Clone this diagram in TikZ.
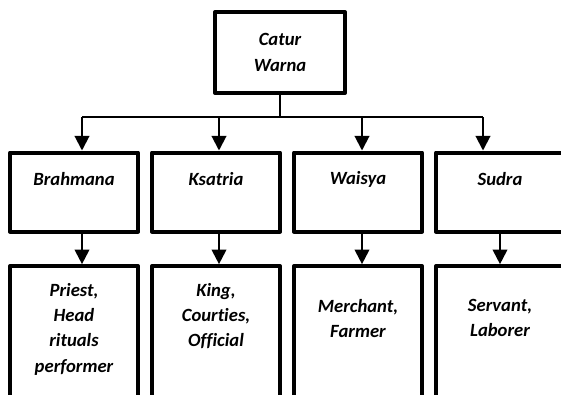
\documentclass[tikz,border=0pt]{standalone}
\usepackage{fontspec}
\setmainfont{Carlito}[Ligatures=NoCommon]
\usetikzlibrary{positioning,arrows.meta}

\begin{document}
\begin{tikzpicture}[
        x=0.75pt, y=-0.75pt,
        node distance = 7.5pt,
        box/.style = {draw=black, line width=3pt, line join=round, minimum width=96pt, minimum height=59.25pt, inner sep=0pt},
        dutybox/.style = {box, minimum height=130pt},
        lbl/.style = {font=\fontsize{14}{19}\selectfont\bfseries\itshape, align=center, inner sep=0pt},
        arr/.style = {-{Triangle[width=11pt,length=11pt]}, line width=1.5pt}]

        \clip (0,0) rectangle (561,394);

        % NODES
        % root
        \node[box, lbl, minimum width=97.5pt, minimum height=60.75pt] (cw) at (280,52.5) {Catur\\Warna};
        % castes
        \node[box] (brahmana) at (74,192) {};
        \node[box, right=of brahmana] (ksatria) {};
        \node[box, right=of ksatria] (waisya) {};
        \node[box, right=of waisya] (sudra) {};
        % duties
        \node[dutybox, below=23pt of brahmana] (priest) {};
        \node[dutybox, below=23pt of ksatria] (king) {};
        \node[dutybox, below=23pt of waisya] (merchant) {};
        \node[dutybox, below=23pt of sudra] (servant) {};

        % TEXTS
        \node[lbl] (brahmana-t) at ([yshift=-21.75pt]brahmana.north) {Brahmana};
        \node[lbl] (ksatria-t) at ([yshift=-21.75pt]ksatria.north) {Ksatria};
        \node[lbl] (waisya-t) at ([yshift=-21.75pt]waisya.north) {Waisya};
        \node[lbl] (sudra-t) at ([yshift=-21.75pt]sudra.north) {Sudra};
        \node[lbl, anchor=north] (priest-t) at ([yshift=-14pt]priest.north) {Priest,\\Head\\rituals\\performer};
        \node[lbl, anchor=north] (king-t) at ([yshift=-14pt]king.north) {King,\\Courties,\\Official};
        \node[lbl, anchor=north] (merchant-t) at ([yshift=-26pt]merchant.north) {Merchant,\\Farmer};
        \node[lbl, anchor=north] (servant-t) at ([yshift=-26pt]servant.north) {Servant,\\Laborer};

        % ARROWS
        \coordinate[below=16.5pt of cw] (bus);
        \coordinate (bx) at ([xshift=6pt]brahmana.north);
        \coordinate (kx) at ([xshift=2.25pt]ksatria.north);
        \coordinate (wx) at ([xshift=3pt]waisya.north);
        \coordinate (sx) at ([xshift=-12.75pt]sudra.north);
        \draw[line width=1.5pt] (cw) -- (bus);
        \draw[line width=1.5pt] (bx |- bus) -- (sx |- bus);
        \draw[arr] (bx |- bus) -- (bx);
        \draw[arr] (kx |- bus) -- (kx);
        \draw[arr] (wx |- bus) -- (wx);
        \draw[arr] (sx |- bus) -- (sx);
        \draw[arr] (bx |- brahmana.south) -- (bx |- priest.north);
        \draw[arr] (kx |- ksatria.south) -- (kx |- king.north);
        \draw[arr] (wx |- waisya.south) -- (wx |- merchant.north);
        \draw[arr] (sudra) -- (servant);
        \end{tikzpicture}
\end{document}
